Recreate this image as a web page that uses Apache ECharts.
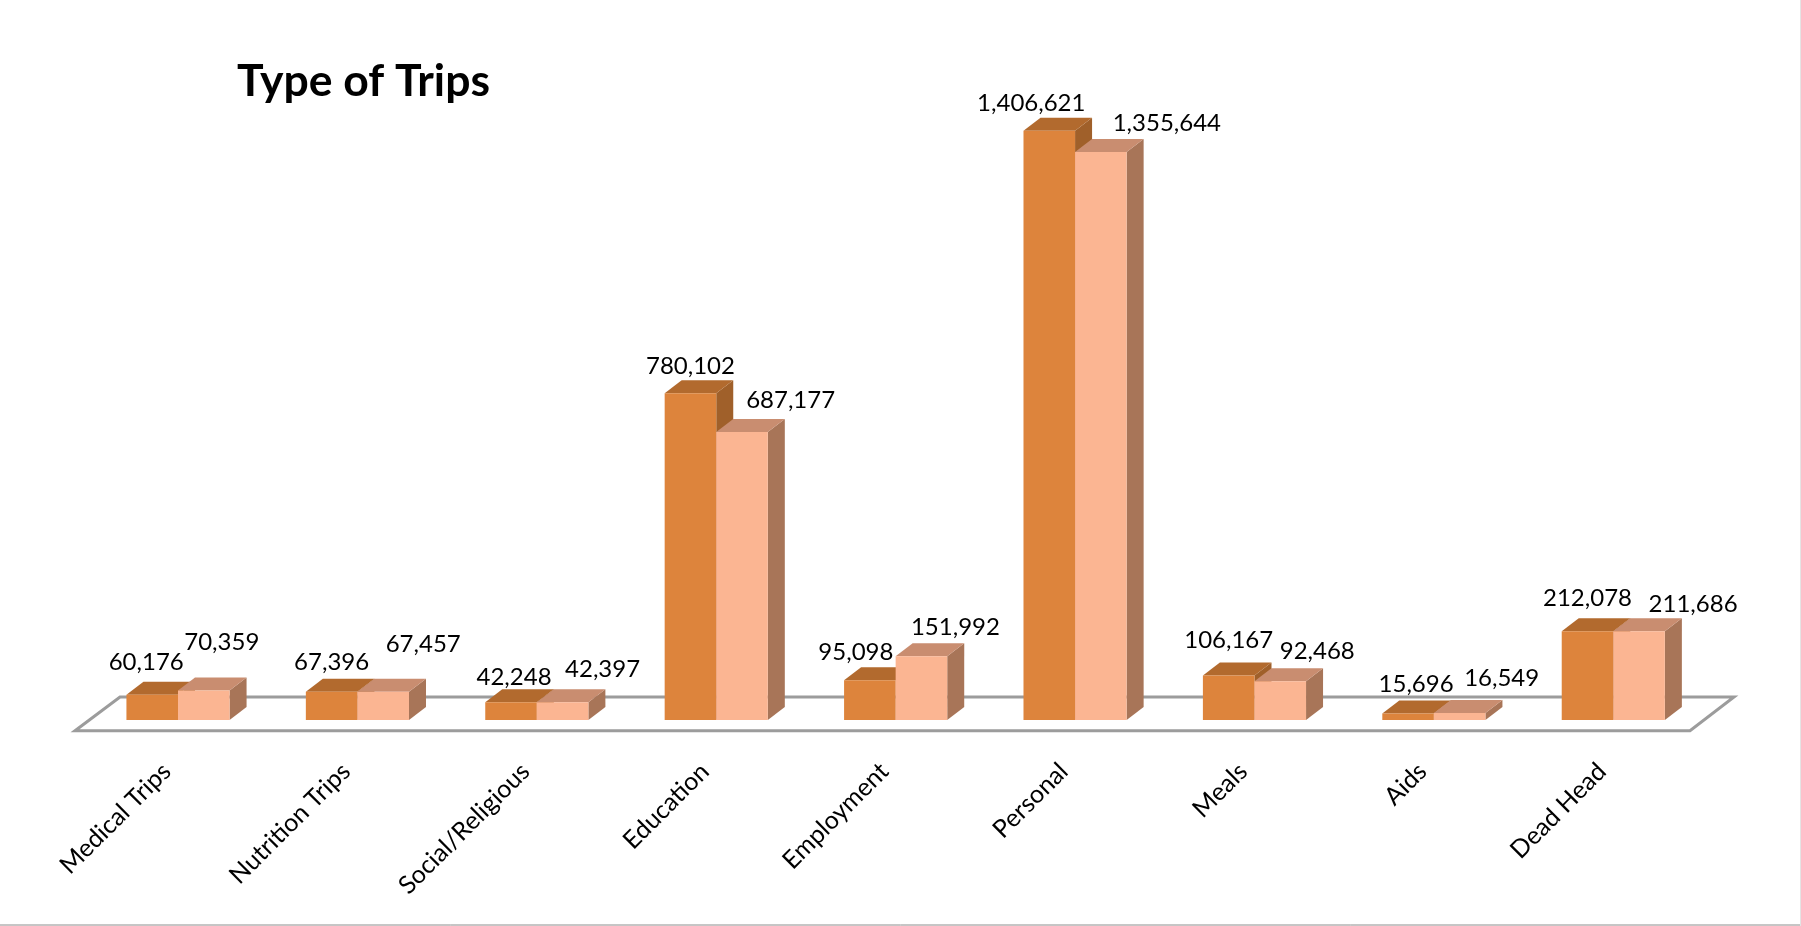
<!DOCTYPE html>
<html><head><meta charset="utf-8">
<style>html,body{margin:0;padding:0;background:#fff}#c{width:1801px;height:926px}</style>
<script src="https://cdn.jsdelivr.net/npm/echarts@6/dist/echarts.min.js"></script>
</head><body><div id="c"></div>
<script>
const categories = ['Medical Trips','Nutrition Trips','Social/Religious','Education','Employment','Personal','Meals','Aids','Dead Head'];
const seriesA = [60176,67396,42248,780102,95098,1406621,106167,15696,212078];
const seriesB = [70359,67457,42397,687177,151992,1355644,92468,16549,211686];
// hand-placed label nudges from the reference, in pixels
const nudgeAx = [-6,0,3,0,-14,-18,0,8,0];
const nudgeAy = [-33,-29,-25,-27,-28,-27,-35,-29,-33];
const nudgeBx = [18,40,40,48.6,34,66,37,42,54];
const nudgeBy = [-48,-47,-33,-32,-29,-29,-30,-35,-27];

const DX = 17, DY = 13;
const FONT = 'Lato, "Open Sans", sans-serif';

function cuboid(colors, offsetFrac, nx, ny) {
  return function (params, api) {
    const i = api.value(0), v = api.value(1);
    const band = api.size([1, 0])[0];
    const w = band * 0.2875;
    const c = api.coord([i, v]), b = api.coord([i, 0]);
    const x0 = c[0] + band * offsetFrac - w / 2, x1 = x0 + w, yt = c[1], yb = b[1];
    return { type: 'group', children: [
      { type: 'polygon', shape: { points: [[x1,yt],[x1+DX,yt-DY],[x1+DX,yb-DY],[x1,yb]] }, style: { fill: colors.side } },
      { type: 'polygon', shape: { points: [[x0,yt],[x0+DX,yt-DY],[x1+DX,yt-DY],[x1,yt]] }, style: { fill: colors.top } },
      { type: 'rect', shape: { x: x0, y: yt, width: w, height: yb - yt }, style: { fill: colors.front } },
      { type: 'text', z2: 100, style: {
          x: (x0 + x1) / 2 + nx[i], y: yt + ny[i], text: v.toLocaleString('en-US'),
          fill: '#000', font: '24px ' + FONT, textAlign: 'center', textVerticalAlign: 'middle' } }
    ]};
  };
}
const toPairs = arr => arr.map((v, i) => [i, v]);

const chart = echarts.init(document.getElementById('c'), null, { renderer: 'canvas' });
chart.setOption({
  animation: false,
  backgroundColor: '#fff',
  title: { text: 'Type of Trips', left: 232, top: 54,
    textStyle: { fontFamily: FONT, fontWeight: 'bold', fontSize: 44.5, color: '#000' } },
  grid: { left: 88.3, right: 1801 - 1703, top: 91.6, bottom: 926 - 720, containLabel: false },
  xAxis: { type: 'category', data: categories,
    axisLine: { show: false }, axisTick: { show: false },
    axisLabel: { interval: 0, rotate: 45, margin: 36, padding: [0, 16, 0, 0], fontFamily: FONT, fontSize: 25, color: '#000' } },
  yAxis: { type: 'value', min: 0, max: 1500000, show: false, splitLine: { show: false } },
  graphic: [
    { type: 'polygon', z: 0, silent: true,
      shape: { points: [[75,730.7],[120,697],[1734,697],[1690,730.7]] },
      style: { fill: '#fff', stroke: '#9C9C9C', lineWidth: 3 } },
    { type: 'line', silent: true, shape: { x1: 0, y1: 925, x2: 1801, y2: 925 }, style: { stroke: '#8C8C8C', lineWidth: 1 } },
    { type: 'line', silent: true, shape: { x1: 1800.5, y1: 0, x2: 1800.5, y2: 926 }, style: { stroke: '#E4E4E4', lineWidth: 1 } }
  ],
  series: [
    { type: 'custom', name: 'A', z: 3, data: toPairs(seriesA), encode: { x: 0, y: 1 },
      renderItem: cuboid({ front: '#DD843C', top: '#B26A2E', side: '#A0602A' }, -0.1437, nudgeAx, nudgeAy) },
    { type: 'custom', name: 'B', z: 4, data: toPairs(seriesB), encode: { x: 0, y: 1 },
      renderItem: cuboid({ front: '#FBB592', top: '#C98D70', side: '#A87558' }, 0.1437, nudgeBx, nudgeBy) }
  ]
});
</script></body></html>
